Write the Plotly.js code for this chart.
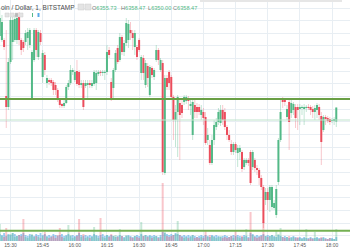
<!DOCTYPE html>
<html>
<head>
<meta charset="utf-8">
<script src="https://cdn.plot.ly/plotly-3.0.1.min.js"></script>
<style>html,body{margin:0;padding:0;background:#fff;}#chart{width:350px;height:250px;}</style>
</head>
<body>
<div id="chart"></div>
<script>
// ---- data (1-minute candles, BITSTAMP BTC/USD) ----
const sessionDay = '2018-10-11';
const firstCandle = '15:25';
const intervalMinutes = 1;

const open = [
6372.8, 6372.0, 6372.0, 6360.8, 6358.6, 6367.6, 6371.6, 6372.0, 6372.0, 6376.6,
6372.0, 6371.6, 6371.6, 6372.4, 6371.0, 6360.2, 6368.0, 6374.0, 6368.6, 6373.4,
6364.6, 6369.0, 6363.4, 6364.0, 6364.0, 6363.6, 6363.0, 6362.0, 6360.0, 6359.2,
6358.8, 6359.4, 6362.6, 6363.4, 6365.6, 6364.0, 6365.8, 6365.6, 6363.0, 6363.4,
6362.8, 6363.0, 6363.4, 6362.8, 6363.2, 6363.4, 6365.2, 6365.6, 6365.4, 6365.4,
6365.6, 6370.0, 6363.6, 6362.4, 6366.0, 6370.4, 6368.0, 6372.6, 6369.6, 6371.4,
6372.0, 6374.0, 6373.4, 6370.6, 6370.6, 6372.0, 6365.4, 6368.4, 6363.0, 6366.8,
6361.0, 6366.4, 6364.6, 6368.0, 6370.0, 6366.0, 6367.4, 6345.4, 6364.4, 6365.6,
6364.6, 6360.6, 6356.0, 6357.6, 6359.4, 6359.0, 6359.6, 6359.8, 6360.4, 6358.8,
6353.0, 6359.0, 6358.6, 6358.6, 6357.0, 6357.6, 6356.6, 6352.0, 6351.0, 6347.4,
6352.0, 6354.6, 6355.6, 6355.4, 6358.0, 6357.6, 6354.6, 6353.0, 6351.2, 6349.6,
6351.2, 6349.4, 6349.6, 6349.6, 6346.6, 6347.4, 6348.0, 6349.6, 6346.6, 6348.0,
6346.4, 6346.0, 6344.4, 6342.6, 6340.0, 6341.6, 6340.0, 6338.6, 6338.4, 6337.0,
6343.6, 6352.0, 6360.2, 6360.0, 6356.6, 6359.6, 6357.4, 6358.0, 6358.6, 6358.6,
6358.2, 6358.4, 6358.2, 6358.4, 6358.6, 6358.6, 6358.2, 6357.6, 6358.0, 6358.6,
6356.8, 6354.0, 6356.6, 6356.4, 6356.2, 6355.8, 6355.8, 6355.7
];
const high = [
6378.4, 6377.0, 6372.4, 6374.0, 6368.4, 6377.0, 6376.8, 6377.0, 6377.2, 6377.6,
6372.4, 6372.0, 6374.0, 6374.4, 6374.4, 6370.0, 6374.4, 6374.4, 6374.0, 6374.0,
6370.0, 6369.6, 6365.0, 6364.4, 6364.4, 6364.0, 6363.6, 6362.4, 6360.4, 6359.4,
6360.0, 6363.0, 6364.0, 6367.0, 6366.4, 6366.0, 6368.0, 6366.0, 6364.0, 6364.0,
6364.0, 6364.0, 6364.0, 6364.0, 6366.0, 6366.0, 6366.0, 6366.0, 6366.0, 6366.0,
6371.0, 6370.6, 6364.4, 6366.4, 6370.0, 6371.0, 6373.4, 6373.0, 6372.0, 6376.4,
6376.0, 6375.6, 6374.0, 6374.0, 6371.0, 6372.4, 6369.0, 6369.0, 6368.0, 6367.4,
6367.0, 6366.8, 6366.4, 6371.0, 6370.4, 6368.4, 6368.0, 6365.0, 6365.0, 6366.0,
6365.0, 6361.0, 6359.0, 6361.0, 6360.0, 6360.0, 6361.0, 6361.0, 6360.8, 6360.0,
6360.0, 6360.0, 6359.4, 6359.2, 6359.0, 6358.4, 6357.6, 6354.4, 6352.0, 6353.0,
6356.0, 6356.4, 6358.4, 6359.0, 6359.0, 6358.4, 6355.0, 6354.0, 6352.0, 6351.6,
6351.6, 6351.0, 6351.0, 6350.0, 6348.4, 6348.4, 6348.4, 6350.0, 6350.0, 6348.4,
6347.0, 6346.4, 6345.0, 6343.0, 6342.4, 6342.4, 6343.0, 6343.0, 6340.0, 6343.0,
6352.4, 6360.0, 6360.6, 6360.4, 6359.0, 6360.0, 6360.0, 6359.6, 6359.2, 6359.2,
6359.2, 6359.0, 6359.2, 6359.0, 6359.2, 6359.0, 6358.8, 6359.0, 6359.4, 6359.2,
6357.6, 6357.0, 6357.0, 6356.8, 6356.6, 6356.4, 6356.6, 6358.5
];
const low = [
6372.0, 6371.6, 6370.0, 6354.4, 6358.0, 6367.2, 6368.0, 6371.6, 6371.2, 6371.0,
6369.0, 6369.6, 6371.0, 6370.0, 6370.4, 6360.0, 6367.6, 6368.6, 6368.0, 6371.0,
6363.4, 6365.0, 6362.4, 6363.0, 6362.8, 6361.0, 6361.0, 6359.6, 6358.4, 6358.4,
6358.4, 6359.2, 6362.0, 6363.0, 6365.0, 6363.6, 6362.8, 6362.4, 6362.4, 6358.0,
6362.4, 6360.0, 6362.4, 6362.4, 6362.8, 6362.0, 6364.8, 6364.8, 6364.8, 6364.0,
6365.0, 6368.4, 6359.8, 6360.0, 6365.6, 6367.2, 6367.6, 6369.0, 6368.8, 6370.8,
6370.4, 6372.0, 6370.0, 6369.0, 6368.0, 6369.6, 6364.0, 6364.0, 6362.4, 6362.6,
6360.6, 6364.4, 6364.0, 6367.6, 6367.0, 6365.6, 6345.0, 6345.0, 6362.0, 6362.0,
6360.0, 6352.0, 6350.6, 6348.6, 6348.0, 6356.4, 6359.0, 6359.2, 6358.0, 6357.0,
6352.0, 6356.4, 6356.4, 6357.0, 6356.0, 6355.0, 6351.0, 6351.0, 6347.0, 6347.0,
6351.0, 6354.0, 6355.0, 6354.8, 6355.0, 6354.0, 6352.0, 6351.6, 6349.0, 6349.0,
6349.4, 6346.6, 6348.0, 6345.6, 6346.0, 6347.0, 6346.8, 6343.0, 6346.0, 6345.6,
6345.0, 6343.0, 6342.0, 6334.4, 6339.0, 6338.0, 6337.6, 6338.0, 6338.0, 6336.4,
6343.0, 6351.6, 6358.4, 6358.8, 6356.0, 6350.0, 6356.4, 6357.0, 6354.4, 6354.0,
6355.0, 6357.0, 6355.0, 6357.6, 6358.0, 6357.0, 6356.4, 6356.0, 6356.4, 6356.0,
6347.0, 6353.6, 6355.0, 6355.4, 6355.0, 6355.4, 6355.0, 6354.6
];
const close = [
6376.4, 6375.6, 6370.6, 6358.6, 6367.6, 6376.0, 6376.0, 6376.2, 6376.4, 6372.0,
6370.0, 6370.4, 6373.4, 6373.6, 6374.0, 6369.6, 6374.0, 6370.0, 6373.6, 6371.6,
6369.4, 6366.0, 6364.4, 6363.6, 6363.4, 6362.0, 6362.0, 6360.0, 6359.0, 6358.8,
6359.4, 6362.6, 6363.4, 6366.0, 6366.0, 6365.6, 6363.2, 6363.0, 6363.4, 6358.6,
6363.4, 6363.4, 6363.0, 6363.4, 6365.6, 6365.4, 6365.6, 6365.4, 6365.6, 6365.6,
6369.6, 6369.0, 6360.2, 6366.0, 6369.4, 6367.6, 6372.6, 6369.6, 6371.4, 6375.4,
6375.2, 6373.4, 6372.4, 6373.4, 6368.6, 6370.0, 6368.6, 6365.4, 6367.4, 6364.4,
6366.6, 6365.0, 6366.0, 6370.0, 6368.0, 6368.0, 6345.6, 6364.4, 6362.6, 6363.4,
6360.6, 6356.0, 6357.6, 6360.6, 6357.0, 6357.4, 6360.6, 6360.6, 6359.8, 6359.2,
6359.6, 6357.6, 6357.6, 6357.6, 6358.0, 6356.4, 6351.4, 6353.0, 6347.4, 6352.0,
6355.0, 6355.6, 6357.6, 6358.0, 6356.0, 6354.6, 6353.0, 6352.0, 6349.6, 6351.2,
6350.0, 6350.4, 6350.4, 6346.2, 6348.0, 6348.0, 6347.4, 6343.4, 6349.6, 6346.4,
6346.0, 6344.4, 6342.6, 6335.4, 6341.6, 6340.0, 6342.6, 6342.6, 6339.4, 6342.2,
6352.0, 6357.6, 6359.6, 6359.6, 6358.2, 6355.6, 6359.4, 6359.2, 6356.4, 6358.0,
6358.6, 6358.6, 6358.6, 6358.6, 6358.4, 6358.0, 6357.6, 6358.4, 6359.0, 6357.0,
6351.6, 6356.6, 6356.2, 6355.8, 6355.6, 6356.0, 6356.2, 6358.5
];
// volume per candle (relative units)
const volume = [
17,5,4,13,6,7,8,4,5,6,
5,22,4,3,5,7,4,5,4,3,
5,9,4,3,4,5,3,6,13,4,
3,5,16,6,3,4,5,22,4,7,
3,4,3,4,14,5,3,23,4,3,
6,4,7,5,6,4,12,5,3,6,
5,4,3,5,4,3,19,5,6,4,
5,3,4,5,3,4,58,9,5,4,
5,6,7,20,6,4,3,4,3,4,
6,3,4,3,4,3,10,4,6,5,
4,3,4,5,3,4,3,4,5,3,
10,4,3,5,4,12,3,29,6,4,
3,4,5,19,5,4,5,6,4,10,
7,13,4,3,4,5,3,4,3,4,
3,2,3,12,2,3,2,9,3,2,
4,3,2,2,3,2,2,12
];
// lower-pane blue volume histogram (relative units)
const volumeBlue = [
7,6,8,5,7,6,8,7,5,6,
7,8,6,5,7,6,5,7,6,8,
6,7,5,6,5,7,6,5,6,7,
5,6,7,5,6,5,6,8,6,5,
6,5,6,5,7,6,5,6,7,5,
6,5,6,5,4,5,6,5,4,5,
6,5,4,5,6,5,7,5,6,5,
6,5,6,5,4,6,9,8,7,6,
7,6,8,7,6,5,6,5,6,5,
6,5,4,5,6,5,6,5,4,6,
5,6,5,4,5,6,5,4,5,6,
5,6,5,4,6,5,4,8,7,5,
6,5,6,7,5,6,5,6,5,4,
6,5,4,5,4,3,4,5,4,3,
4,3,4,3,3,4,3,3,4,3,
3,4,3,2,3,3,2,4
];
// horizontal support / resistance levels drawn on the chart
const levels = [6360.2, 6356.0, 6333.86];
const levelStyles = [
  {color:'#6a9f45', width:2},
  {color:'#bfe3cc', width:1},
  {color:'#74b052', width:2}
];
const tickLabels = ['15:30','15:45','16:00','16:15','16:30','16:45','17:00','17:15','17:30','17:45','18:00'];
const symbolTitle = 'oin / Dollar, 1, BITSTAMP';
const ohlcLabels = ['O','H','L','C'];
const ohlcValues = ['6355.73','6358.47','6350.00','6358.47'];

// ---- build ----
function pad(n){return (n<10?'0':'')+n;}
const startMin = parseInt(firstCandle.split(':')[0])*60 + parseInt(firstCandle.split(':')[1]);
const times = open.map((_, i) => {
  const m = startMin + i*intervalMinutes;
  return sessionDay + ' ' + pad(Math.floor(m/60)) + ':' + pad(m%60);
});
const up = open.map((o,i) => close[i] >= o);
const UP = '#53b987', DOWN = '#eb4d5c';

const W = 350, PH = 241;
const px = x => x / W;
const py = y => 1 - y / PH;

const wick = {
  type:'bar', x: times, base: low, y: high.map((h,i)=>h-low[i]),
  width: 26000, marker:{color: up.map(u => u ? 'rgba(83,185,135,0.38)' : 'rgba(235,77,92,0.33)'), line:{width:0}},
  hoverinfo:'skip', yaxis:'y', xaxis:'x'
};
const body = {
  type:'bar', x: times, base: open.map((o,i)=>Math.min(o,close[i])),
  y: open.map((o,i)=>Math.max(Math.abs(close[i]-o), 0.22)),
  width: 56000, marker:{color: up.map(u => u ? UP : DOWN), line:{width:0}},
  hoverinfo:'skip', yaxis:'y', xaxis:'x'
};
const volBlue = {
  type:'bar', x: times, y: volumeBlue, width: 52000,
  marker:{color:'rgba(92,172,232,0.6)', line:{width:0}}, hoverinfo:'skip', yaxis:'y2', xaxis:'x'
};
const vol = {
  type:'bar', x: times, y: volume, width: 56000,
  marker:{color: up.map(u => u ? 'rgba(83,185,135,0.32)' : 'rgba(235,77,92,0.32)'), line:{width:0}},
  hoverinfo:'skip', yaxis:'y2', xaxis:'x'
};

const shapes = levels.map((lv,k) => ({
  type:'line', xref:'paper', x0:0, x1:1, yref:'y', y0:lv, y1:lv,
  line:{color:levelStyles[k].color, width:levelStyles[k].width}, layer:'above'
}));
// toolbar decorations in header
const boxes = [[78,4,84,10],[85,4,91,10],[5,13,9,17],[10,13,14,17],[15,13,18,17],[19,13,23,17]];
boxes.forEach((b,k) => shapes.push({type:'rect', xref:'paper', yref:'paper',
  x0:px(b[0]), x1:px(b[2]), y0:py(b[3]), y1:py(b[1]),
  fillcolor: k===4 ? '#b8b8b8' : '#e4e4e4', line:{color:'#cfcfcf', width:0.5}, layer:'above'}));
shapes.push({type:'rect', xref:'paper', yref:'paper', x0:px(32), x1:px(33), y0:py(17), y1:py(13), fillcolor:UP, line:{width:0}, layer:'above'});
shapes.push({type:'rect', xref:'paper', yref:'paper', x0:px(37.5), x1:px(39.5), y0:py(17), y1:py(13), fillcolor:'#5aa9e6', line:{width:0}, layer:'above'});
shapes.push({type:'rect', xref:'paper', yref:'paper', x0:px(200), x1:px(342), y0:py(2), y1:py(0), fillcolor:'#e6e6e6', line:{width:0}, layer:'above'});

const fontFam = 'Liberation Sans, Arial, sans-serif';
const annotations = [
  {text: symbolTitle, xref:'paper', yref:'paper', x:px(-0.5), y:py(7.5), xanchor:'left', yanchor:'middle',
   showarrow:false, borderpad:0, font:{family:fontFam, size:6.5, color:'#4a4a4a'}}
];
const ohlcX = [91, 120, 147, 172];
ohlcLabels.forEach((lab,k) => annotations.push({
  text: lab + '<span style="color:#53b987">' + ohlcValues[k] + '</span>',
  xref:'paper', yref:'paper', x:px(ohlcX[k]), y:py(7.5), xanchor:'left', yanchor:'middle',
  showarrow:false, borderpad:0, font:{family:fontFam, size:5.6, color:'#7a7a7a'}
}));

const grid = '#e8eef3';
const layout = {
  width: 350, height: 250,
  margin:{l:0, r:0, t:0, b:9, pad:0},
  paper_bgcolor:'#ffffff', plot_bgcolor:'#ffffff',
  showlegend:false, barmode:'overlay',
  xaxis:{
    type:'date', range:[sessionDay+' 15:25:05.6', sessionDay+' 18:08:24'],
    tickmode:'array', tickvals: tickLabels.map(t => sessionDay+' '+t), ticktext: tickLabels,
    showgrid:true, gridcolor:grid, gridwidth:1, zeroline:false, showline:false, ticks:'',
    tickfont:{family:fontFam, size:5, color:'#5a5a5a'}, fixedrange:true
  },
  yaxis:{
    range:[6331.8, 6380], tick0:6378.4, dtick:2.53, showgrid:true, gridcolor:grid, gridwidth:1,
    showticklabels:false, zeroline:false, showline:false, ticks:'', fixedrange:true
  },
  yaxis2:{
    overlaying:'y', range:[0, 241], showgrid:false, showticklabels:false, zeroline:false,
    showline:false, ticks:'', fixedrange:true
  },
  shapes: shapes,
  annotations: annotations
};

Plotly.newPlot('chart', [wick, body, volBlue, vol], layout, {staticPlot:true, displayModeBar:false});
</script>
</body>
</html>
